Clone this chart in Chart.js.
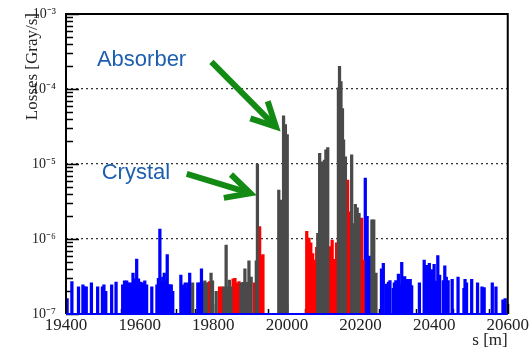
<!DOCTYPE html>
<html>
<head>
<meta charset="utf-8">
<script src="https://cdn.jsdelivr.net/npm/chart.js@4.4.0/dist/chart.umd.min.js"></script>
<style>
  html, body { margin: 0; padding: 0; background: #fff; }
  #wrap { width: 530px; height: 348px; }
</style>
</head>
<body>
<div id="wrap"><canvas id="c"></canvas></div>
<script>
// positions s [m] and losses [Gray/s]
const blueS = [19403, 19416, 19434, 19446, 19451, 19455, 19469, 19486, 19499, 19503, 19508, 19524, 19536,
  19554, 19559, 19565, 19570, 19576, 19582, 19587, 19592, 19597, 19603, 19608, 19614, 19619, 19633,
  19647, 19651, 19655, 19659, 19663, 19667, 19671, 19675, 19679, 19683, 19686, 19690,
  19712, 19716, 19720, 19724, 19728, 19732, 19736, 19758, 19763, 19768, 19772,
  20213, 20218, 20224, 20228, 20257, 20262, 20271, 20276, 20280, 20289, 20292, 20296,
  20303, 20308, 20312, 20316, 20320, 20326, 20330, 20335, 20339, 20360,
  20373, 20377, 20383, 20387, 20390, 20394, 20400, 20404, 20410, 20415,
  20425, 20429, 20433, 20438, 20449, 20465, 20481, 20484, 20488, 20502,
  20518, 20530, 20536, 20558, 20568, 20587, 20593];
const blueV = [1.6e-7, 2.7e-7, 2.3e-7, 2.45e-7, 2.3e-7, 2.3e-7, 2.6e-7, 2.3e-7, 2.3e-7, 2.45e-7, 2.0e-7, 2.45e-7, 2.67e-7,
  2.45e-7, 2.76e-7, 2.76e-7, 2.6e-7, 2.6e-7, 3.5e-7, 2.95e-7, 5.4e-7, 2.95e-7, 2.67e-7, 2.6e-7, 2.76e-7, 2.45e-7, 2.3e-7,
  2.45e-7, 3.0e-7, 1.36e-6, 2.7e-7, 3.1e-7, 3.5e-7, 2.76e-7, 6.2e-7, 2.45e-7, 2.45e-7, 2.45e-7, 2.0e-7,
  3.3e-7, 2.45e-7, 2.15e-7, 2.6e-7, 2.15e-7, 2.6e-7, 3.5e-7, 2.6e-7, 2.6e-7, 4.0e-7, 2.6e-7,
  6.5e-6, 2.0e-6, 5.9e-7, 5.25e-7, 4.0e-7, 4.75e-7, 2.5e-7, 2.67e-7, 2.8e-7, 2.2e-7, 2.6e-7, 2.8e-7,
  3.4e-7, 2.45e-7, 4.9e-7, 3.1e-7, 3.15e-7, 2.9e-7, 2.9e-7, 2.9e-7, 2.4e-7, 2.6e-7,
  5.25e-7, 4.45e-7, 4.45e-7, 4.75e-7, 3.1e-7, 3.9e-7, 4.6e-7, 2.75e-7, 6.0e-7, 3.3e-7,
  2.8e-7, 4.4e-7, 3.1e-7, 2.8e-7, 2.9e-7, 3.1e-7, 2.2e-7, 2.9e-7, 2.6e-7, 2.9e-7,
  2.6e-7, 2.3e-7, 2.25e-7, 2.6e-7, 2.3e-7, 1.55e-7, 1.6e-7];

const redS = [19786, 19790, 19817, 19823, 19854, 19859, 19865, 19870, 19912, 19926, 19931, 19935,
  20054, 20060, 20065, 20070, 20076, 20081, 20118, 20123, 20129, 20135, 20165, 20170, 20203, 20207];
const redV = [2.6e-7, 2.7e-7, 2.3e-7, 2.3e-7, 2.95e-7, 3.0e-7, 2.6e-7, 2.7e-7, 2.6e-7, 1.46e-6, 6.0e-7, 6.2e-7,
  1.27e-6, 1.03e-6, 8.9e-7, 6.4e-7, 5.25e-7, 7.75e-7, 7.9e-7, 9.7e-7, 5.35e-7, 8.9e-7, 6.1e-6, 2.3e-6, 1.9e-6, 5.25e-7];

const grayS = [19744, 19777, 19781, 19794, 19798, 19808, 19829, 19835, 19839, 19844, 19848,
  19875, 19881, 19886, 19892, 19897, 19903, 19917, 19920,
  19978, 19984, 19991, 19996, 20001,
  20084, 20089, 20094, 20098, 20102, 20106, 20111,
  20140, 20143, 20147, 20151, 20154, 20159, 20176, 20181, 20186, 20191, 20196, 20231, 20236, 20242];
const grayV = [2.6e-7, 2.76e-7, 2.6e-7, 3.5e-7, 2.76e-7, 2.0e-7, 2.3e-7, 8.3e-7, 2.3e-7, 2.84e-7, 2.3e-7,
  2.6e-7, 2.65e-7, 4.0e-7, 2.65e-7, 5.1e-7, 3.1e-7, 5.1e-7, 1.0e-5,
  4.5e-6, 3.3e-6, 4.4e-5, 3.35e-5, 2.46e-5,
  1.19e-6, 1.39e-5, 1.07e-5, 7.1e-6, 1.13e-5, 1.54e-5, 1.65e-5,
  1.04e-4, 2.0e-4, 1.26e-4, 5.5e-5, 2.1e-5, 1.25e-5, 1.33e-5, 1.6e-6, 2.9e-6, 2.6e-6, 2.2e-6, 1.8e-6, 1.8e-6, 3.5e-7];

const yDecades = [-7, -6, -5, -4, -3];
const yTickLabels = ['10⁻⁷', '10⁻⁶', '10⁻⁵', '10⁻⁴', '10⁻³'];

// labels and arrows, in data coordinates
const notes = [
  { text: 'Absorber', s: 19484, v: 2.0e-4 },
  { text: 'Crystal', s: 19497, v: 6.3e-6 }
];
const arrows = [
  { s0: 19795, v0: 2.3e-4, s1: 19980, v1: 2.8e-5 },
  { s0: 19728, v0: 7.4e-6, s1: 19914, v1: 3.9e-6 }
];

const bars = (sArr, vArr, color) => ({
  data: sArr.map((s, i) => ({ x: s, y: vArr[i] })),
  backgroundColor: color,
  borderWidth: 0,
  barThickness: 2.6,
  grouped: false
});

const drawArrow = (ctx, x0, y0, x1, y1) => {
  const a = Math.atan2(y1 - y0, x1 - x0);
  const len = 27, spread = 0.47;
  const tx = x1 - 5 * Math.cos(a), ty = y1 - 5 * Math.sin(a);
  ctx.beginPath();
  ctx.moveTo(x0, y0);
  ctx.lineTo(tx - 3 * Math.cos(a), ty - 3 * Math.sin(a));
  ctx.stroke();
  ctx.beginPath();
  ctx.moveTo(tx - len * Math.cos(a - spread), ty - len * Math.sin(a - spread));
  ctx.lineTo(tx, ty);
  ctx.lineTo(tx - len * Math.cos(a + spread), ty - len * Math.sin(a + spread));
  ctx.stroke();
};

// ticks inside the frame, drawn under the bars
const innerTicks = {
  id: 'innerTicks',
  beforeDatasetsDraw(chart) {
    const { ctx, chartArea: a, scales: { x, y } } = chart;
    ctx.save();
    ctx.strokeStyle = '#000';
    ctx.lineWidth = 1.5;
    ctx.beginPath();
    yDecades.forEach(e => {
      for (let m = 1; m < 10; m++) {
        const v = m * Math.pow(10, e);
        if (v > y.max * 1.0001) continue;
        const py = Math.round(y.getPixelForValue(v)) + 0.5;
        ctx.moveTo(a.left, py);
        ctx.lineTo(a.left + (m === 1 ? 13 : 7), py);
      }
    });
    for (let s = x.min; s <= x.max; s += 50) {
      const px = Math.round(x.getPixelForValue(s)) + 0.5;
      ctx.moveTo(px, a.bottom);
      ctx.lineTo(px, a.bottom - ((s - 19400) % 200 === 0 ? 10 : 5));
    }
    ctx.stroke();
    ctx.restore();
  }
};

const decor = {
  id: 'decor',
  afterDatasetsDraw(chart) {
    const { ctx, chartArea: a, scales: { x, y } } = chart;
    ctx.save();
    // frame
    ctx.lineWidth = 2;
    ctx.strokeStyle = '#000';
    ctx.beginPath();
    ctx.moveTo(a.left, a.bottom);
    ctx.lineTo(a.left, a.top);
    ctx.lineTo(a.right, a.top);
    ctx.lineTo(a.right, a.bottom);
    ctx.stroke();
    ctx.strokeStyle = '#0000ff';
    ctx.beginPath();
    ctx.moveTo(a.left, a.bottom);
    ctx.lineTo(a.right, a.bottom);
    ctx.stroke();

    // axis titles
    ctx.fillStyle = '#222';
    ctx.font = '17px "Liberation Serif"';
    ctx.textAlign = 'right';
    ctx.textBaseline = 'alphabetic';
    ctx.fillText('s [m]', a.right, 345);
    ctx.save();
    ctx.translate(37, a.top - 1);
    ctx.rotate(-Math.PI / 2);
    ctx.fillText('Losses [Gray/s]', 0, 0);
    ctx.restore();

    // annotations
    ctx.fillStyle = '#1d5fae';
    ctx.font = '22px "Liberation Sans"';
    ctx.textAlign = 'left';
    notes.forEach(n => ctx.fillText(n.text, x.getPixelForValue(n.s), y.getPixelForValue(n.v)));
    ctx.strokeStyle = '#138a13';
    ctx.lineWidth = 6;
    ctx.lineJoin = 'miter';
    arrows.forEach(r => drawArrow(ctx,
      x.getPixelForValue(r.s0), y.getPixelForValue(r.v0),
      x.getPixelForValue(r.s1), y.getPixelForValue(r.v1)));
    ctx.restore();
  }
};

new Chart(document.getElementById('c'), {
  type: 'bar',
  data: {
    datasets: [
      bars(grayS, grayV, '#4a4a4a'),
      bars(redS, redV, '#ff0000'),
      bars(blueS, blueV, '#0000ff')
    ]
  },
  options: {
    responsive: true,
    maintainAspectRatio: false,
    animation: false,
    devicePixelRatio: 1,
    layout: { padding: { top: 14, right: 21, left: 0, bottom: 0 } },
    plugins: { legend: { display: false }, tooltip: { enabled: false } },
    scales: {
      x: {
        type: 'linear',
        min: 19400,
        max: 20600,
        offset: false,
        afterFit: s => { s.height = 34; },
        grid: { display: false, drawTicks: false },
        border: { display: false },
        ticks: {
          stepSize: 200,
          autoSkip: false,
          maxRotation: 0,
          padding: 1,
          color: '#222',
          font: { family: 'Liberation Serif', size: 17 },
          callback: v => String(v)
        }
      },
      y: {
        type: 'logarithmic',
        min: 1e-7,
        max: 1e-3,
        afterFit: s => { s.width = 66; },
        afterBuildTicks: s => { s.ticks = yDecades.map(e => ({ value: Math.pow(10, e) })); },
        grid: {
          drawTicks: true,
          tickLength: 10,
          tickColor: 'rgba(0,0,0,0)',
          lineWidth: 1.3,
          color: c => (c.index === 0 || c.index === yDecades.length - 1) ? 'rgba(0,0,0,0)' : '#333'
        },
        border: { display: false, dash: [2, 3] },
        ticks: {
          padding: 0,
          autoSkip: false,
          color: '#222',
          font: { family: 'Liberation Serif', size: 14 },
          callback: (v, i) => yTickLabels[i]
        }
      }
    }
  },
  plugins: [innerTicks, decor]
});
</script>
</body>
</html>
